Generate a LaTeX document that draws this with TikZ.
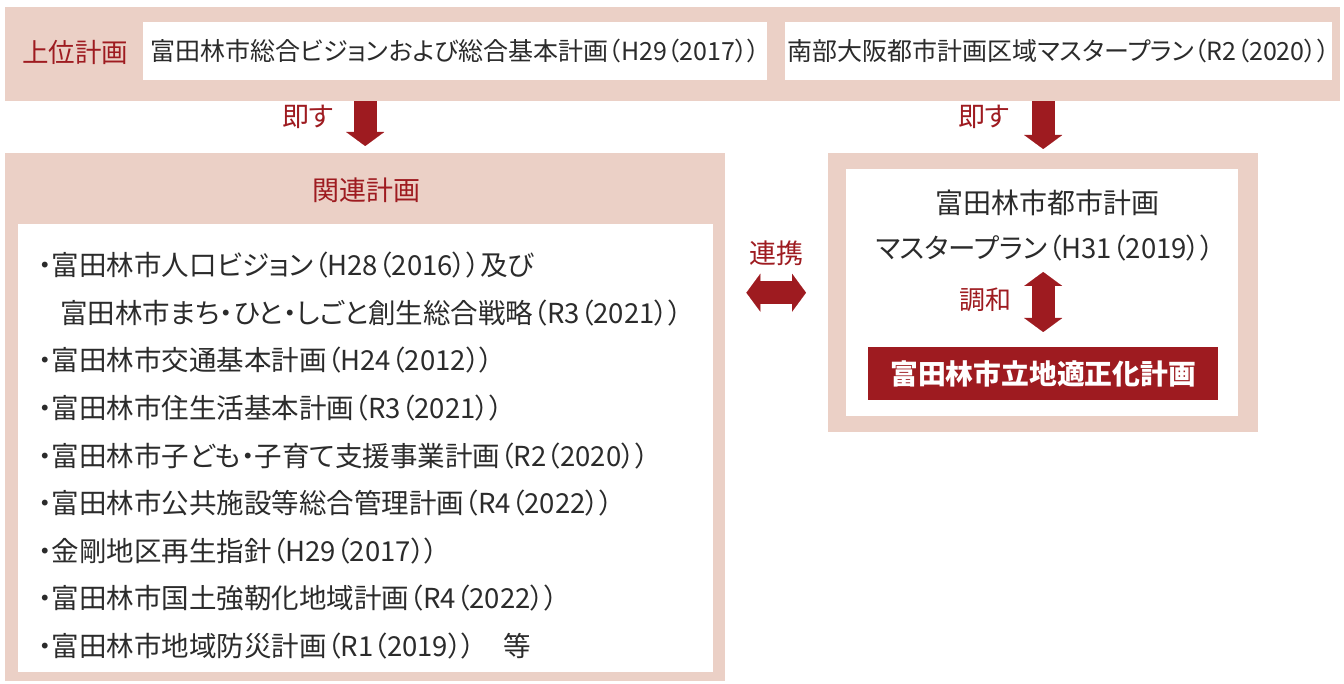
\documentclass[tikz,border=0pt]{standalone}
\usepackage{fontspec}
\usetikzlibrary{arrows.meta,positioning,calc}
\newfontfamily\jp[RawFeature=+palt]{Noto Sans CJK JP}
\definecolor{pinkbg}{HTML}{EBD0C6}
\definecolor{darkred}{HTML}{9E1B20}
\definecolor{textgray}{HTML}{2B2B2B}

\begin{document}
\begin{tikzpicture}[x=1pt,y=-1pt,
    panel/.style={fill=pinkbg, inner sep=0pt, anchor=north west},
    sheet/.style={fill=white, inner sep=0pt, anchor=north west, text=textgray, font=\jp\fontsize{25pt}{28pt}\selectfont},
    head/.style={text=darkred, inner sep=0pt, font=\jp\fontsize{27pt}{30pt}\selectfont},
    plain/.style={text=textgray, inner sep=0pt, font=\jp\fontsize{28pt}{30pt}\selectfont},
    blockarrow/.style={darkred, line width=23pt, -{Triangle[width=38pt,length=14pt,line width=0.1pt]}},
    twoarrow/.style={darkred, line width=23pt, {Triangle[width=38pt,length=14pt,line width=0.1pt]}-{Triangle[width=38pt,length=14pt,line width=0.1pt]}}]
     \useasboundingbox (0,0) rectangle (1344,684);

     % upper plans
     \node[panel, minimum width=1335pt, minimum height=94pt] (upper) at (5,7) {};
     \node[head, font=\jp\fontsize{26.5pt}{30pt}\selectfont] (upperlbl) at (75,52) {上位計画};
     \node[sheet, minimum width=624pt, minimum height=58pt] (vision) at (143,22) {富田林市総合ビジョンおよび総合基本計画（H29（2017））};
     \node[sheet, minimum width=547pt, minimum height=58pt] (osaka) at (785,22) {南部大阪都市計画区域マスタープラン（R2（2020））};

     % related plans
     \node[panel, minimum width=720pt, minimum height=528pt] (related) at (5,153) {};
     \node[head] (relatedlbl) at (366,190) {関連計画};
     \node[sheet, minimum width=695pt, minimum height=448pt] (relsheet) at (18,224) {};
     \node[plain, anchor=north west, align=left, font=\jp\fontsize{27.5pt}{47.6pt}\selectfont] (list) at (38,252) {%
       ・富田林市人口ビジョン（H28（2016））及び\\
       \hspace*{22pt}富田林市まち・ひと・しごと創生総合戦略（R3（2021））\\
       ・富田林市交通基本計画（H24（2012））\\
       ・富田林市住生活基本計画（R3（2021））\\
       ・富田林市子ども・子育て支援事業計画（R2（2020））\\
       ・富田林市公共施設等総合管理計画（R4（2022））\\
       ・金剛地区再生指針（H29（2017））\\
       ・富田林市国土強靭化地域計画（R4（2022））\\
       ・富田林市地域防災計画（R1（2019））　等};

     % city master plan
     \node[panel, minimum width=430pt, minimum height=279pt] (master) at (828,153) {};
     \node[sheet, minimum width=392pt, minimum height=247pt] (mastersheet) at (846,169) {};
     \node[plain] (mptitle) at (1047,203) {富田林市都市計画};
     \node[plain, font=\jp\fontsize{27.5pt}{30pt}\selectfont] (mpsub) at (1045,248) {マスタープラン（H31（2019））};
     \node[fill=darkred, text=white, inner sep=0pt, anchor=north west, minimum width=350pt, minimum height=53pt,
           font=\jp\bfseries\fontsize{27.8pt}{30pt}\selectfont] (siting) at (868,347) {富田林市立地適正化計画};

     % arrows
     \draw[blockarrow] (upper.south -| related.north) -- ([yshift=7pt]related.north);
     \draw[blockarrow] (upper.south -| master.north) -- ([yshift=4pt]master.north);
     \draw[twoarrow, shorten <=21pt, shorten >=22pt] (related.east |- master.west) -- (master.west);
     \draw[twoarrow] ([yshift=-24pt]mpsub.center -| siting.north) -- ([yshift=15pt]siting.north);

     \node[head] (conform1) at (308,117) {即す};
     \node[head] (conform2) at (984,117) {即す};
     \node[head] (link) at (776,253) {連携};
     \node[head, font=\jp\fontsize{26pt}{30pt}\selectfont] (harmony) at (985,300) {調和};
\end{tikzpicture}
\end{document}
